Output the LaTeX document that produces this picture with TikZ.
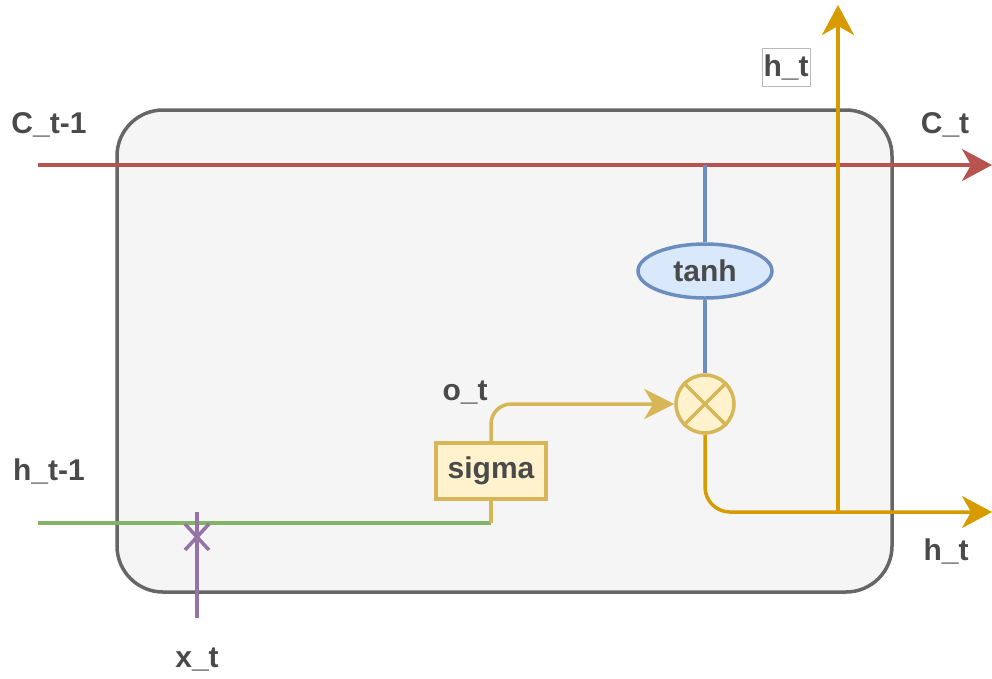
\documentclass[tikz,border=0pt]{standalone}
\usepackage{fontspec}
\setmainfont{Liberation Sans}
\usetikzlibrary{arrows.meta,shapes.geometric}
\definecolor{cred}{HTML}{B85450}
\definecolor{cgreen}{HTML}{82B366}
\definecolor{cpurple}{HTML}{9673A6}
\definecolor{cblue}{HTML}{6C8EBF}
\definecolor{cbluefill}{HTML}{DAE8FC}
\definecolor{cgold}{HTML}{D6B656}
\definecolor{cyfill}{HTML}{FFF2CC}
\definecolor{corange}{HTML}{D79B00}
\definecolor{cboxline}{HTML}{666666}
\definecolor{cboxfill}{HTML}{F5F5F5}
\definecolor{ctext}{HTML}{4A4A4A}
\begin{document}
\begin{tikzpicture}[x=1pt,y=-1pt,
  lbl/.style={font=\fontsize{30}{36}\selectfont\bfseries, text=ctext, anchor=base, inner sep=0pt},
  wire/.style={line width=3.5pt},
  tip/.style={-{Stealth[length=30pt,width=32pt,inset=9pt]}},
  smalltip/.style={-{Stealth[length=30pt,width=30pt,inset=9pt]}},
  cell/.style={draw=cboxline, fill=cboxfill, line width=3.5pt, rounded corners=46pt, minimum width=775pt, minimum height=482pt, inner sep=0pt},
  yellowbox/.style={draw=cgold, fill=cyfill, line width=3.5pt, minimum width=110pt, minimum height=56pt, inner sep=0pt, font=\fontsize{30}{36}\selectfont\bfseries, text=ctext},
  tanhnode/.style={ellipse, draw=cblue, fill=cbluefill, line width=3.5pt, minimum width=134pt, minimum height=54pt, inner sep=0pt, font=\fontsize{30}{36}\selectfont\bfseries, text=ctext},
  mult/.style={circle, draw=cgold, fill=cyfill, line width=3.5pt, minimum size=58pt, inner sep=0pt},
  tagbox/.style={draw=gray!55, fill=white, line width=1pt, minimum width=48pt, minimum height=38pt, inner sep=0pt, font=\fontsize{30}{36}\selectfont\bfseries, text=ctext}
]
\useasboundingbox (0,0) rectangle (992,678);

% cell body
\node[cell] (cell) at (504.5,351) {};

% nodes
\node[yellowbox] (sigma) at (491,471) {sigma};
\node[tanhnode] (tanh) at (705,271) {tanh};
\node[mult] (mul) at (705,404) {};
\draw[cgold, line width=3.5pt] (mul.north east) -- (mul.south west) (mul.north west) -- (mul.south east);

% coordinates
\coordinate (cin) at (38,165);
\coordinate (cout) at (992,165);
\coordinate (ctap) at (705,165);
\coordinate (hin) at (38,523);
\coordinate (hout) at (992,512);
\coordinate (hup) at (838,512);
\coordinate (htop) at (838,5);
\coordinate (xin) at (197,618);
\coordinate (xend) at (197,512);
\coordinate (xmark) at (197,537);

% cell state line
\draw[wire, cred, tip] (cin) -- (cout);

% tanh path
\draw[wire, cblue] (ctap) -- (tanh.north);
\draw[wire, cblue] (tanh.south) -- (mul.north);

% h_{t-1} input
\draw[wire, cgreen] (hin) -- (sigma.south |- hin);
\draw[wire, cgold] (sigma.south) -- (sigma.south |- hin);

% x_t input
\draw[wire, cpurple] (xin) -- (xend);
\draw[wire, cpurple] ([shift={(-12pt,-13pt)}]xmark) -- ([shift={(12pt,13pt)}]xmark);
\draw[wire, cpurple] ([shift={(-12pt,13pt)}]xmark) -- ([shift={(12pt,-13pt)}]xmark);

% o_t to multiplier
\draw[wire, cgold, smalltip, rounded corners=20pt] (sigma.north) |- (mul.west);

% output h_t
\draw[wire, corange, tip, rounded corners=25pt] (mul.south) |- (hout);
\draw[wire, corange, tip] (hup) -- (htop);

% labels
\node[lbl] (lc0) at (49,133) {C\_t-1};
\node[lbl] (lc1) at (945,133) {C\_t};
\node[lbl] (lh0) at (49,480) {h\_t-1};
\node[lbl] (lo) at (465,400) {o\_t};
\node[lbl] (lh1) at (946,560) {h\_t};
\node[lbl] (lx) at (197,667) {x\_t};
\node[tagbox] (lh2) at (786,67) {h\_t};
\end{tikzpicture}
\end{document}
